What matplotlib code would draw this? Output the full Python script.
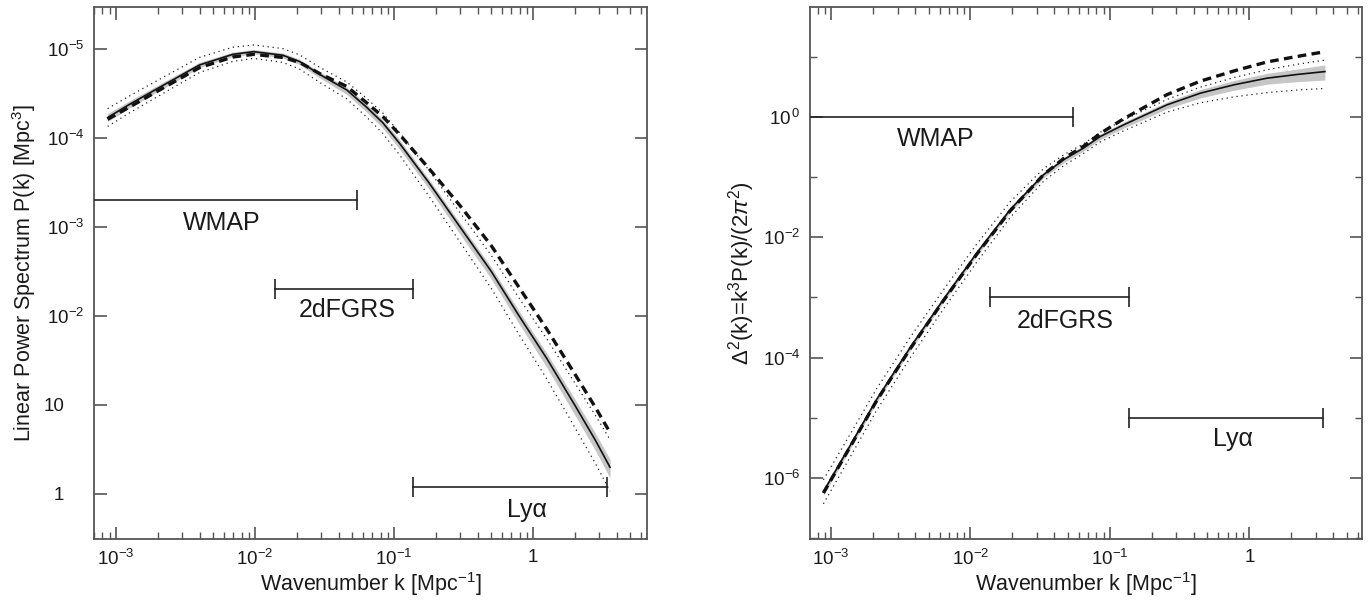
import numpy as np
import matplotlib
matplotlib.use("Agg")
import matplotlib.pyplot as plt
from matplotlib.ticker import LogLocator, NullFormatter, FixedLocator, FixedFormatter
from matplotlib.transforms import ScaledTranslation

plt.rcParams['font.family'] = ['Liberation Sans', 'DejaVu Sans']
plt.rcParams['mathtext.fontset'] = 'custom'
plt.rcParams['mathtext.rm'] = 'Liberation Sans'
plt.rcParams['mathtext.it'] = 'Liberation Sans:italic'
plt.rcParams['mathtext.bf'] = 'Liberation Sans:bold'

# ---------------- data (log10 values) ----------------
# Left panel: linear power spectrum P(k)
left_logk = [-3.06, -2.90, -2.64, -2.40, -2.16, -2.01, -1.80, -1.68, -1.53, -1.34, -1.20,
             -1.08, -0.96, -0.75, -0.525, -0.30, -0.10, 0.10, 0.30, 0.45, 0.554]
left_best = [4.23, 4.38, 4.61, 4.82, 4.94, 4.97, 4.93, 4.86, 4.71, 4.54, 4.35,
             4.17, 3.94, 3.50, 3.00, 2.50, 2.00, 1.52, 1.00, 0.60, 0.30]
left_band_hi = [4.275, 4.42, 4.645, 4.85, 4.965, 4.995, 4.955, 4.885, 4.74, 4.57, 4.385,
                4.205, 3.98, 3.54, 3.045, 2.55, 2.055, 1.58, 1.07, 0.68, 0.39]
left_band_lo = [4.185, 4.34, 4.575, 4.79, 4.915, 4.945, 4.90, 4.825, 4.67, 4.49, 4.295,
                4.11, 3.875, 3.43, 2.92, 2.415, 1.91, 1.42, 0.89, 0.485, 0.18]
left_dashed = [4.21, 4.35, 4.58, 4.79, 4.91, 4.94, 4.905, 4.85, 4.72, 4.58, 4.40,
               4.24, 4.04, 3.66, 3.24, 2.79, 2.32, 1.85, 1.35, 0.97, 0.69]
left_dot_hi = [4.33, 4.475, 4.70, 4.905, 5.02, 5.045, 5.005, 4.935, 4.79, 4.63, 4.45,
               4.28, 4.06, 3.64, 3.16, 2.68, 2.20, 1.74, 1.25, 0.88, 0.61]
left_dot_lo = [4.13, 4.285, 4.52, 4.735, 4.86, 4.895, 4.85, 4.775, 4.62, 4.44, 4.24,
               4.05, 3.81, 3.35, 2.83, 2.31, 1.79, 1.29, 0.75, 0.34, 0.03]

# Right panel: Delta^2(k)
right_logk = [-3.055, -2.864, -2.672, -2.433, -2.194, -1.954, -1.715, -1.476, -1.332,
              -1.189, -1.069, -0.901, -0.590, -0.350, -0.111, 0.128, 0.350, 0.542]
right_best = [-6.231, -5.467, -4.693, -3.836, -3.035, -2.261, -1.542, -0.962, -0.713,
              -0.519, -0.327, -0.133, 0.199, 0.393, 0.531, 0.642, 0.705, 0.751]
right_band_hi = [-6.171, -5.412, -4.643, -3.786, -2.990, -2.216, -1.502, -0.922, -0.673,
                 -0.479, -0.287, -0.088, 0.249, 0.453, 0.601, 0.722, 0.795, 0.861]
right_band_lo = [-6.291, -5.522, -4.743, -3.886, -3.080, -2.306, -1.587, -1.012, -0.763,
                 -0.569, -0.377, -0.188, 0.134, 0.313, 0.441, 0.542, 0.585, 0.611]
right_dashed = [-6.251, -5.487, -4.713, -3.856, -3.055, -2.281, -1.562, -0.962, -0.693,
                -0.489, -0.277, -0.033, 0.369, 0.593, 0.761, 0.912, 1.005, 1.081]
right_dot_hi = [-6.031, -5.277, -4.513, -3.666, -2.875, -2.111, -1.412, -0.862, -0.633,
                -0.449, -0.257, -0.053, 0.289, 0.493, 0.651, 0.782, 0.875, 0.941]
right_dot_lo = [-6.431, -5.657, -4.873, -4.006, -3.195, -2.411, -1.672, -1.072, -0.813,
                -0.609, -0.417, -0.233, 0.079, 0.233, 0.331, 0.402, 0.445, 0.471]

# Survey k-ranges [Mpc^-1]
survey_names = ["WMAP", "2dFGRS", "Lyα"]
survey_kmin = [None, 0.0139, 0.137]
survey_kmax = [0.054, 0.137, 3.4]
left_bar_y = [2.0e3, 2.0e2, 1.2]
left_label_xy = [(0.0058, 1.1e3), (0.046, 1.17e2), (0.9, 0.66)]
right_bar_y = [1.0, 1.0e-3, 1.0e-5]
right_label_xy = [(0.0056, 0.42), (0.048, 4.0e-4), (0.76, 4.4e-6)]

left_yticks = [1, 10, 1e2, 1e3, 1e4, 1e5]
left_yticklabels = ["1", "10", "10$^{-2}$", "10$^{-3}$", "10$^{-4}$", "10$^{-5}$"]
right_yticks = [1e-6, 1e-4, 1e-2, 1]
right_yticklabels = ["10$^{-6}$", "10$^{-4}$", "10$^{-2}$", "10$^{\\,0}$"]
right_yminor = [1e-7, 1e-5, 1e-3, 1e-1, 10]
xticks = [1e-3, 1e-2, 1e-1, 1]
xticklabels = ["10$^{-3}$", "10$^{-2}$", "10$^{-1}$", "1"]

# ---------------- figure ----------------
W, H = 1369, 604
fig = plt.figure(figsize=(W / 100, H / 100), dpi=100)
axL = fig.add_axes([94 / W, (H - 539) / H, 553 / W, 532 / H])
axR = fig.add_axes([810 / W, (H - 539) / H, 552 / W, 532 / H])

band_col = "#c6c6c6"
spine_col = "#555555"
txt_col = "#1a1a1a"


def draw(ax, logk, best, bhi, blo, dash, dhi, dlo):
    k = 10 ** np.array(logk)
    ax.fill_between(k, 10 ** np.array(blo), 10 ** np.array(bhi), color=band_col, lw=0, zorder=1)
    ax.plot(k, 10 ** np.array(dhi), color="#222222", lw=0.9, ls=(0, (1, 3)), zorder=2)
    ax.plot(k, 10 ** np.array(dlo), color="#222222", lw=0.9, ls=(0, (1, 3)), zorder=2)
    ax.plot(k, 10 ** np.array(best), color="#111111", lw=1.2, zorder=3)
    ax.plot(k, 10 ** np.array(dash), color="#111111", lw=2.4, ls=(0, (2.6, 1.6)), zorder=4)


def style(ax, xlim, ylim):
    ax.set_xscale("log")
    ax.set_yscale("log")
    ax.set_xlim(*xlim)
    ax.set_ylim(*ylim)
    for s in ax.spines.values():
        s.set_color(spine_col)
        s.set_linewidth(1.3)
    ax.xaxis.set_major_locator(FixedLocator(xticks))
    ax.xaxis.set_major_formatter(FixedFormatter(xticklabels))
    ax.xaxis.set_minor_locator(LogLocator(base=10, subs=np.arange(2, 10), numticks=20))
    ax.xaxis.set_minor_formatter(NullFormatter())
    ax.tick_params(which="both", direction="in", top=True, right=True,
                   color=spine_col, labelcolor=txt_col, labelsize=13.5)
    ax.tick_params(which="major", length=9, width=1.2, pad=7)
    ax.tick_params(which="minor", length=5, width=1.0)
    ax.set_xlabel("Wavenumber k [Mpc$^{-1}$]", fontsize=15.5, color=txt_col, labelpad=1)


def bars(ax, ys, labels_xy, xlim):
    for name, kmin, kmax, y, (lx, ly) in zip(survey_names, survey_kmin, survey_kmax, ys, labels_xy):
        lo = xlim[0] if kmin is None else kmin
        ax.plot([lo, kmax], [y, y], color="#222222", lw=1.2, zorder=5)
        ends = [kmax] if kmin is None else [kmin, kmax]
        ax.plot(ends, [y] * len(ends), ls="none", marker="|", ms=15, mew=1.2,
                color="#222222", zorder=5)
        ax.text(lx, ly, name, fontsize=18, color=txt_col, ha="center", va="center")


xlimL = (10 ** -3.158, 10 ** 0.82)
ylimL = (10 ** -0.506, 10 ** 5.472)
draw(axL, left_logk, left_best, left_band_hi, left_band_lo, left_dashed, left_dot_hi, left_dot_lo)
style(axL, xlimL, ylimL)
axL.yaxis.set_major_locator(FixedLocator(left_yticks))
axL.yaxis.set_major_formatter(FixedFormatter(left_yticklabels))
axL.yaxis.set_minor_locator(FixedLocator([]))
axL.set_ylabel("Linear Power Spectrum P(k) [Mpc$^{3}$]", fontsize=15.5, color=txt_col, labelpad=4)
bars(axL, left_bar_y, left_label_xy, xlimL)

xlimR = (10 ** -3.151, 10 ** 0.808)
ylimR = (10 ** -7.015, 10 ** 1.824)
draw(axR, right_logk, right_best, right_band_hi, right_band_lo, right_dashed, right_dot_hi, right_dot_lo)
style(axR, xlimR, ylimR)
axR.yaxis.set_major_locator(FixedLocator(right_yticks))
axR.yaxis.set_major_formatter(FixedFormatter(right_yticklabels))
axR.yaxis.set_minor_locator(FixedLocator(right_yminor))
axR.yaxis.set_minor_formatter(NullFormatter())
axR.set_ylabel(r"$\Delta^2$(k)=k$^3$P(k)/(2$\mathit{\pi}^2$)", fontsize=16, color=txt_col, labelpad=4)
bars(axR, right_bar_y, right_label_xy, xlimR)

# plain-number labels sit with their digits aligned to the base "10" of the others
fig.canvas.draw()
for tick in axL.yaxis.get_major_ticks():
    if tick.label1.get_text() in ("1", "10"):
        tick.label1.set_transform(tick.label1.get_transform()
                                  + ScaledTranslation(-20 / 100, 0, fig.dpi_scale_trans))

fig.savefig("out.png", dpi=100)
